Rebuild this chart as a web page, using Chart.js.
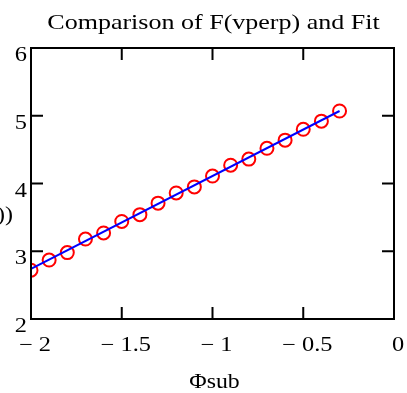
<!DOCTYPE html>
<html>
<head>
<meta charset="utf-8">
<script src="https://cdn.jsdelivr.net/npm/chart.js@4.4.0/dist/chart.umd.min.js"></script>
<style>
  html, body { margin: 0; padding: 0; background: #fff; }
  #wrap { width: 407px; height: 393px; }
</style>
</head>
<body>
<div id="wrap"><canvas id="fitChart" width="407" height="393"></canvas></div>
<script>
// measured F(vperp) values
const phiSub = [-2, -1.9, -1.8, -1.7, -1.6, -1.5, -1.4, -1.3, -1.2, -1.1, -1.0, -0.9, -0.8, -0.7, -0.6, -0.5, -0.4, -0.3];
const fValues = [2.72, 2.87, 2.98, 3.18, 3.27, 3.44, 3.54, 3.71, 3.86, 3.95, 4.11, 4.27, 4.36, 4.52, 4.64, 4.80, 4.92, 5.07];

// straight line fit, end points
const fitX = [-2, -0.3];
const fitY = [2.74, 5.07];

const xTickLabels = { '-2': '\u2212 2', '-1.5': '\u2212 1.5', '-1': '\u2212 1', '-0.5': '\u2212 0.5', '0': '0' };
const yTickLabels = { '2': '2', '3': '3', '4': '4', '5': '5', '6': '6' };

const titleText = 'Comparison of F(vperp) and Fit';
const xTitle = '\u03a6sub';
const yTitle = 'ln(F(vperp))';

const serif = '"Liberation Serif", "Times New Roman", serif';

// the original text is a bit wider than Times, so stretch it sideways
function stretchText(ctx, text, x, y, size, align, sx) {
    ctx.save();
    ctx.font = size + 'px ' + serif;
    ctx.textAlign = align;
    ctx.textBaseline = 'alphabetic';
    ctx.translate(x, y);
    ctx.scale(sx, 1);
    ctx.fillText(text, 0, 0);
    ctx.restore();
}

// frame, inward ticks on all four sides, and all the text
const framePlugin = {
    id: 'frame',
    afterDraw(chart) {
        const ctx = chart.ctx;
        const a = chart.chartArea;
        const xs = chart.scales.x;
        const ys = chart.scales.y;
        const len = 12;
        ctx.save();
        ctx.strokeStyle = '#000';
        ctx.lineWidth = 2;
        ctx.strokeRect(a.left, a.top, a.right - a.left, a.bottom - a.top);
        ctx.beginPath();
        xs.ticks.forEach(t => {
            if (t.value <= xs.min || t.value >= xs.max) return;
            const px = xs.getPixelForValue(t.value);
            ctx.moveTo(px, a.bottom); ctx.lineTo(px, a.bottom - len);
            ctx.moveTo(px, a.top); ctx.lineTo(px, a.top + len);
        });
        ys.ticks.forEach(t => {
            if (t.value <= ys.min || t.value >= ys.max) return;
            const py = ys.getPixelForValue(t.value);
            ctx.moveTo(a.left, py); ctx.lineTo(a.left + len, py);
            ctx.moveTo(a.right, py); ctx.lineTo(a.right - len, py);
        });
        ctx.stroke();

        ctx.fillStyle = '#000';
        xs.ticks.forEach(t => {
            const px = xs.getPixelForValue(t.value);
            stretchText(ctx, xTickLabels[String(t.value)], px + 4, a.bottom + 32, 20, 'center', 1.22);
        });
        ys.ticks.forEach(t => {
            const py = ys.getPixelForValue(t.value);
            stretchText(ctx, yTickLabels[String(t.value)], a.left - 4, py + 13, 20, 'right', 1.22);
        });
        const midX = (a.left + a.right) / 2;
        stretchText(ctx, titleText, midX + 1, 28.5, 21.5, 'center', 1.21);
        stretchText(ctx, xTitle, midX + 2, 388, 20, 'center', 1.19);
        // y label sits mostly off the left edge
        stretchText(ctx, yTitle, 13, 221, 20, 'right', 1.2);
        ctx.restore();
    }
};

new Chart(document.getElementById('fitChart'), {
    type: 'scatter',
    data: {
        datasets: [{
            type: 'line',
            label: 'Fit',
            data: fitX.map((x, i) => ({ x: x, y: fitY[i] })),
            borderColor: '#0000ff',
            borderWidth: 2,
            pointRadius: 0,
            fill: false,
            clip: 0
        }, {
            label: 'F(vperp)',
            data: phiSub.map((x, i) => ({ x: x, y: fValues[i] })),
            borderColor: '#ff0000',
            backgroundColor: 'rgba(0,0,0,0)',
            pointRadius: 6.5,
            pointBorderWidth: 2,
            clip: 0
        }]
    },
    options: {
        responsive: false,
        animation: false,
        layout: { padding: { top: 48, right: 13, left: 0, bottom: 0 } },
        plugins: {
            legend: { display: false },
            tooltip: { enabled: false },
            title: { display: false }
        },
        scales: {
            x: {
                type: 'linear',
                min: -2,
                max: 0,
                ticks: { stepSize: 0.5, display: false },
                grid: { display: false, drawTicks: false },
                border: { display: false },
                afterFit: s => { s.height = 74; }
            },
            y: {
                min: 2,
                max: 6,
                ticks: { stepSize: 1, display: false },
                grid: { display: false, drawTicks: false },
                border: { display: false },
                afterFit: s => { s.width = 31; }
            }
        }
    },
    plugins: [framePlugin]
});
</script>
</body>
</html>
